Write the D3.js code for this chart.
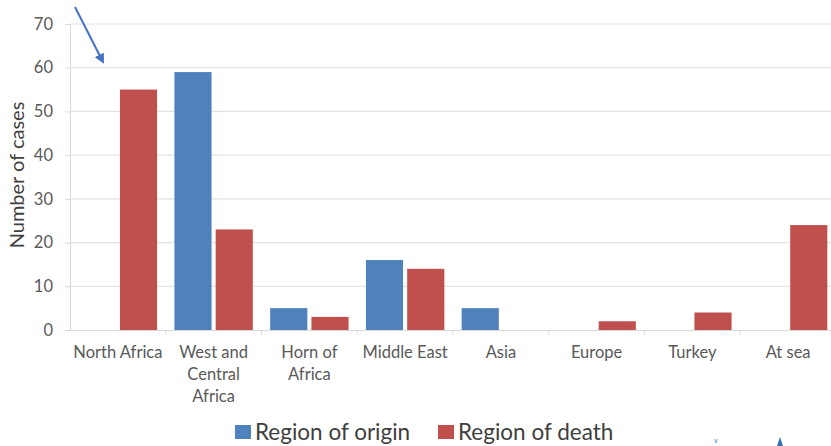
<!DOCTYPE html>
<html>
<head>
<meta charset="utf-8">
<script src="https://cdn.jsdelivr.net/npm/d3@7"></script>
<style>
  html, body { margin: 0; padding: 0; background: #fff; overflow: hidden; }
  svg { display: block; font-family: Lato, "Open Sans", sans-serif; }
</style>
</head>
<body>
<svg id="chart" width="831" height="446"></svg>
<script>
// Regions and case counts
const categories = ["North Africa", "West and Central Africa", "Horn of Africa", "Middle East", "Asia", "Europe", "Turkey", "At sea"];
const categoryLines = [["North Africa"], ["West and", "Central", "Africa"], ["Horn of", "Africa"], ["Middle East"], ["Asia"], ["Europe"], ["Turkey"], ["At sea"]];
const seriesNames = ["Region of origin", "Region of death"];
const origin = [0, 59, 5, 16, 5, 0, 0, 0];
const death = [55, 23, 3, 14, 0, 2, 4, 24];
const yTicks = [0, 10, 20, 30, 40, 50, 60, 70];
const colors = ["#4F81BD", "#C0504D"];

const svg = d3.select("#chart");
const W = 831, H = 446;
// plot area runs slightly past the right edge of the canvas
const plot = { left: 70, right: 836, top: 24, bottom: 330 };

const x = d3.scaleBand().domain(categories).range([plot.left, plot.right]).paddingInner(0).paddingOuter(0);
const x1 = d3.scaleBand().domain(seriesNames).range([0, x.bandwidth()]).paddingInner(0.1).paddingOuter(0.21);
const y = d3.scaleLinear().domain([0, 70]).range([plot.bottom, plot.top]);

// gridlines
svg.append("g")
  .selectAll("line")
  .data(yTicks.filter(d => d > 0))
  .join("line")
  .attr("x1", plot.left).attr("x2", plot.right)
  .attr("y1", d => y(d)).attr("y2", d => y(d))
  .attr("stroke", "#e3e3e3").attr("stroke-width", 1.2);

// y axis
const yAxis = svg.append("g")
  .attr("transform", `translate(${plot.left},0)`)
  .call(d3.axisLeft(y).tickValues(yTicks).tickSize(5).tickPadding(12));
yAxis.select(".domain").attr("stroke", "#d9d9d9");
yAxis.selectAll(".tick line").attr("stroke", "#d9d9d9");
yAxis.selectAll(".tick text").attr("fill", "#595959").style("font-size", "16.5px").style("font-family", "Lato, sans-serif");

// bars
const rows = categories.map((c, i) => ({ c, vals: [origin[i], death[i]] }));
const groups = svg.append("g").selectAll("g").data(rows).join("g")
  .attr("transform", d => `translate(${x(d.c)},0)`);
groups.selectAll("rect")
  .data(d => d.vals.map((v, k) => ({ k, v })))
  .join("rect")
  .attr("x", d => x1(seriesNames[d.k]))
  .attr("width", x1.bandwidth())
  .attr("y", d => y(d.v))
  .attr("height", d => y(0) - y(d.v))
  .attr("fill", d => colors[d.k]);

// x axis
const xAxis = svg.append("g")
  .attr("transform", `translate(0,${y(0)})`)
  .call(d3.axisBottom(x).tickSize(0).tickFormat(""));
xAxis.select(".domain").attr("stroke", "#d9d9d9").attr("stroke-width", 1.2);
// category dividers
svg.append("g").selectAll("line")
  .data(categories.slice(1))
  .join("line")
  .attr("x1", d => x(d)).attr("x2", d => x(d))
  .attr("y1", y(0)).attr("y2", y(0) + 5)
  .attr("stroke", "#d9d9d9");

// category labels
const lab = svg.append("g").selectAll("text").data(categories).join("text")
  .attr("x", d => x(d) + x.bandwidth() / 2)
  .attr("y", y(0) + 28)
  .attr("text-anchor", "middle")
  .attr("fill", "#595959")
  .style("font-size", "16.5px");
lab.each(function (d, i) {
  d3.select(this).selectAll("tspan").data(categoryLines[i]).join("tspan")
    .attr("x", x(d) + x.bandwidth() / 2)
    .attr("dy", (t, j) => j === 0 ? 0 : 22)
    .text(t => t);
});

// y axis title
svg.append("text")
  .attr("transform", `translate(24,175) rotate(-90)`)
  .attr("text-anchor", "middle")
  .attr("fill", "#404040")
  .style("font-size", "20px")
  .text("Number of cases");

// legend
const legend = svg.append("g");
const legendItems = [{ name: seriesNames[0], x: 235 }, { name: seriesNames[1], x: 438 }];
legendItems.forEach((it, i) => {
  legend.append("rect").attr("x", it.x).attr("y", 425).attr("width", 16).attr("height", 14).attr("fill", colors[i]);
  legend.append("text").attr("x", it.x + 20).attr("y", 440)
    .attr("fill", "#404040").style("font-size", "22.5px").text(it.name);
});

// pointer arrow
const defs = svg.append("defs");
defs.append("marker").attr("id", "arrowhead").attr("viewBox", "0 0 10 10")
  .attr("refX", 8).attr("refY", 5).attr("markerWidth", 5).attr("markerHeight", 5)
  .attr("orient", "auto")
  .append("path").attr("d", "M0,0 L10,5 L0,10 z").attr("fill", "#4472C4");
svg.append("line")
  .attr("x1", 75).attr("y1", 7).attr("x2", 103).attr("y2", 62)
  .attr("stroke", "#4472C4").attr("stroke-width", 2)
  .attr("marker-end", "url(#arrowhead)");

// small marks near the bottom edge
svg.append("text").attr("x", 714).attr("y", 443).attr("fill", "#2e75b6").style("font-size", "7px").text("v");
svg.append("path").attr("d", "M780,437 L783,446 L777,446 z").attr("fill", "#2e75b6");
</script>
</body>
</html>
